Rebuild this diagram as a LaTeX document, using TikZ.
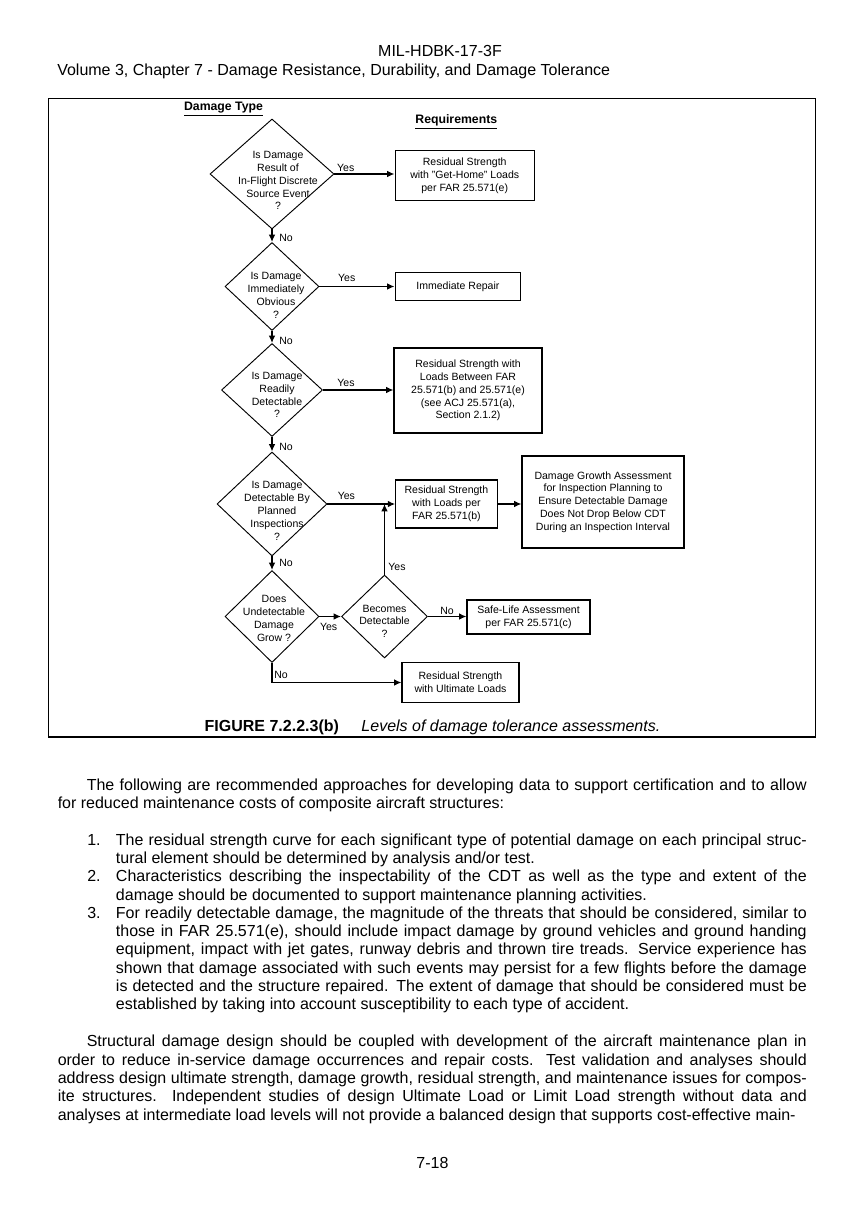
\documentclass[tikz,border=0pt]{standalone}
\usepackage{fontspec}
\setmainfont{Liberation Sans}
\usetikzlibrary{shapes.geometric,arrows.meta,positioning}
\hyphenpenalty=10000
\exhyphenpenalty=10000

\begin{document}
\begin{tikzpicture}[x=0.75pt,y=-0.75pt,font=\fontsize{7.9}{9.6}\selectfont,
  >={Latex[length=5.5pt,width=5pt]},
  dec/.style={diamond,draw,line width=0.7pt,inner sep=0pt},
  req/.style={draw,line width=0.8pt,inner sep=0pt,align=center},
  lbl/.style={inner sep=0pt,align=center},
  flow/.style={->,line width=1.2pt},
  body/.style={font=\fontsize{12}{13.75}\selectfont,inner sep=0pt,anchor=base west}]
  \path[fill=white,use as bounding box] (0,0) rectangle (864,1223);

  % page header
  \node[body,anchor=base] (hdr1) at (440,57) {MIL-HDBK-17-3F};
  \node[body] (hdr2) at (57,76) {Volume 3, Chapter 7 - Damage Resistance, Durability, and Damage Tolerance};

  % figure frame
  \draw[line width=1pt] (48.5,98.3) rectangle (815.4,737);
  \node[lbl,font=\fontsize{9.2}{11}\selectfont\bfseries] (dtype) at (223.5,109) {\underline{Damage Type}};
  \node[lbl,font=\fontsize{9.2}{11}\selectfont\bfseries] (reqs) at (456.3,121.7) {\underline{Requirements}};

  % decisions
  \node[dec,minimum width=93pt,minimum height=82.5pt] (d1) at (272,174) {};
  \node[dec,minimum width=70.5pt,minimum height=66pt] (d2) at (272,286.5) {};
  \node[dec,minimum width=75.75pt,minimum height=69.75pt] (d3) at (272,390) {};
  \node[dec,minimum width=82.5pt,minimum height=78pt] (d4) at (272,504) {};
  \node[dec,minimum width=70.5pt,minimum height=69pt] (d5) at (272,616.5) {};
  \node[dec,minimum width=64.5pt,minimum height=62.25pt] (d6) at (384.5,616.5) {};
  \node[lbl] (d1txt) at (278,180.6) {Is Damage\\Result of\\In-Flight Discrete\\Source Event\\?};
  \node[lbl] (d2txt) at (276,295.2) {Is Damage\\Immediately\\Obvious\\?};
  \node[lbl] (d3txt) at (277,395) {Is Damage\\Readily\\Detectable\\?};
  \node[lbl] (d4txt) at (277,510.8) {Is Damage\\Detectable By\\Planned\\Inspections\\?};
  \node[lbl] (d5txt) at (274,618.5) {Does\\Undetectable\\Damage\\Grow ?};
  \node[lbl] (d6txt) at (384.5,621.3) {Becomes\\Detectable\\?};

  % requirements
  \node[req,minimum width=104.5pt,minimum height=37.5pt] (b1) at (464.7,175.7) {Residual Strength\\with "Get-Home" Loads\\per FAR 25.571(e)};
  \node[req,minimum width=94.3pt,minimum height=21.2pt] (b2) at (457.9,286.8) {Immediate Repair};
  \node[req,minimum width=111pt,minimum height=63.75pt] (b3) at (468,390.5) {Residual Strength with\\Loads Between FAR\\25.571(b) and 25.571(e)\\(see ACJ 25.571(a),\\Section 2.1.2)};
  \node[req,minimum width=76pt,minimum height=36pt] (b4) at (446.4,504) {Residual Strength\\with Loads per\\FAR 25.571(b)};
  \node[req,minimum width=121.5pt,minimum height=69pt] (b5) at (603,502) {Damage Growth Assessment\\for Inspection Planning to\\Ensure Detectable Damage\\Does Not Drop Below CDT\\During an Inspection Interval};
  \node[req,minimum width=92.25pt,minimum height=25.5pt] (b6) at (528.5,617) {Safe-Life Assessment\\per FAR 25.571(c)};
  \node[req,minimum width=87.75pt,minimum height=29.7pt] (b7) at (460.5,682.5) {Residual Strength\\with Ultimate Loads};

  % connectors
  \draw[flow] (d1.east) -- (d1 -| b1.west);
  \draw[flow] (d2.east) -- (d2 -| b2.west);
  \draw[flow] (d3.east) -- (d3 -| b3.west);
  \draw[flow] (d4.east) -- (d4 -| b4.west);
  \draw[flow] (b4.east) -- (b4 -| b5.west);
  \draw[flow] (d1.south) -- (d2.north);
  \draw[flow] (d2.south) -- (d3.north);
  \draw[flow] (d3.south) -- (d4.north);
  \draw[flow] (d4.south) -- (d5.north);
  \draw[flow] (d5.east) -- (d6.west);
  \draw[flow] (d6.east) -- (d6 -| b6.west);
  \draw[flow] (d6.north) -- (d6 |- d4);
  \draw[flow] (d5.south) |- (b7.west);

  % branch labels
  \node[lbl] (yes1) at (345.7,168.3) {Yes};
  \node[lbl] (yes2) at (346.7,277.7) {Yes};
  \node[lbl] (yes3) at (346,383) {Yes};
  \node[lbl] (yes4) at (346.4,496) {Yes};
  \node[lbl] (yes5) at (328.6,626.7) {Yes};
  \node[lbl] (yes6) at (397,567.3) {Yes};
  \node[lbl] (no1) at (286,238.3) {No};
  \node[lbl] (no2) at (286,340.7) {No};
  \node[lbl] (no3) at (286,447) {No};
  \node[lbl] (no4) at (286,562.7) {No};
  \node[lbl] (no5) at (281,675) {No};
  \node[lbl] (no6) at (447,611) {No};

  % caption
  \node[body,anchor=base] (cap) at (432.5,731) {\textbf{FIGURE 7.2.2.3(b)}\hspace{16.9pt}\textit{Levels of damage tolerance assessments.}};

  % text below the figure
  \node[body,text width=561.75pt,align=justify] (para1) at (57.5,790) {\hspace*{21.75pt}The following are recommended approaches for developing data to support certification and to allow\linebreak for reduced maintenance costs of composite aircraft structures:};
  \node[body] (num1) at (87,845) {1.};
  \node[body] (num2) at (87,881.7) {2.};
  \node[body] (num3) at (87,918.3) {3.};
  \node[body,text width=518.1pt,align=justify] (item1) at (115.7,845) {The residual strength curve for each significant type of potential damage on each principal struc-\linebreak tural element should be determined by analysis and/or test.};
  \node[body,text width=518.1pt,align=justify] (item2) at (115.7,881.7) {Characteristics describing the inspectability of the CDT as well as the type and extent of the\linebreak damage should be documented to support maintenance planning activities.};
  \node[body,text width=518.1pt,align=justify] (item3) at (115.7,918.3) {For readily detectable damage, the magnitude of the threats that should be considered, similar to\linebreak those in FAR 25.571(e), should include impact damage by ground vehicles and ground handing\linebreak equipment, impact with jet gates, runway debris and thrown tire treads.  Service experience has\linebreak shown that damage associated with such events may persist for a few flights before the damage\linebreak is detected and the structure repaired.  The extent of damage that should be considered must be\linebreak established by taking into account susceptibility to each type of accident.};
  \node[body,text width=561.75pt,align=justify] (para2) at (57.5,1046.7) {\parfillskip=0pt\hspace*{21.75pt}Structural damage design should be coupled with development of the aircraft maintenance plan in\linebreak order to reduce in-service damage occurrences and repair costs.  Test validation and analyses should\linebreak address design ultimate strength, damage growth, residual strength, and maintenance issues for compos-\linebreak ite structures.  Independent studies of design Ultimate Load or Limit Load strength without data and\linebreak analyses at intermediate load levels will not provide a balanced design that supports cost-effective main-};

  % page number
  \node[body,anchor=base] (pgno) at (432.5,1168) {7-18};
\end{tikzpicture}
\end{document}
